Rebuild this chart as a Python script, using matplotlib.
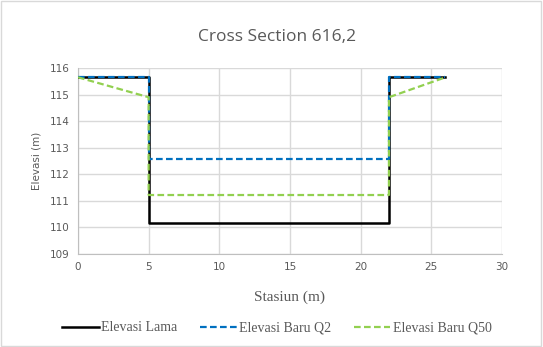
import matplotlib.pyplot as plt
from matplotlib.patches import Rectangle

# datos de la seccion transversal
x_lama = [0, 5, 5, 22, 22, 26]
y_lama = [115.65, 115.65, 110.17, 110.17, 115.65, 115.65]

x_q2 = [0, 5, 5, 22, 22, 26]
y_q2 = [115.65, 115.65, 112.58, 112.58, 115.65, 115.65]

x_q50 = [0, 5, 5, 22, 22, 26]
y_q50 = [115.65, 114.9, 111.22, 111.22, 114.9, 115.65]

x_ticks = [0, 5, 10, 15, 20, 25, 30]
y_ticks = [109, 110, 111, 112, 113, 114, 115, 116]

fig = plt.figure(figsize=(5.43, 3.47), dpi=100)
ax = fig.add_axes([0.1436, 0.268, 0.7809, 0.536])

ax.plot(x_lama, y_lama, color='black', lw=1.8, label='Elevasi Lama', zorder=3)
ax.plot(x_q2, y_q2, color='#0070C0', lw=1.6, ls=(0, (3, 1.5)), label='Elevasi Baru Q2', zorder=4)
ax.plot(x_q50, y_q50, color='#92D050', lw=1.6, ls=(0, (3, 1.5)), label='Elevasi Baru Q50', zorder=5)

ax.set_xlim(0, 30)
ax.set_ylim(109, 116)
ax.set_xticks(x_ticks)
ax.set_yticks(y_ticks)
ax.grid(True, color='#d9d9d9', lw=1)
ax.set_axisbelow(True)
for s in ['top', 'right']:
    ax.spines[s].set_visible(False)
for s in ['left', 'bottom']:
    ax.spines[s].set_color('#bfbfbf')
ax.tick_params(length=0, colors='#595959', labelsize=7.5, pad=6)

# titulo centrado en la figura, no en los ejes
fig.text(0.51, 0.893, 'Cross Section 616,2', fontsize=12.5, color='#595959',
         family='Open Sans', ha='center', va='center')
ax.set_ylabel('Elevasi (m)', fontsize=7.5, color='#595959', labelpad=6)
ax.set_xlabel('Stasiun (m)', fontsize=11, color='#595959',
              family='Liberation Serif', labelpad=13)

leg = fig.legend(loc='center', bbox_to_anchor=(0.51, 0.055), ncol=3,
                 frameon=False, handlelength=2.6, handletextpad=0.15,
                 columnspacing=1.7, prop={'family': 'Liberation Serif', 'size': 10})
for t in leg.get_texts():
    t.set_color('#595959')

fig.patches.append(Rectangle((0.002, 0.003), 0.994, 0.994, transform=fig.transFigure,
                             fill=False, edgecolor='#d9d9d9', lw=1))

fig.savefig('out.png', dpi=100)
